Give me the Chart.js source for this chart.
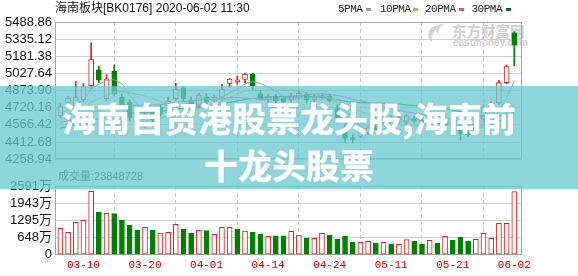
<!DOCTYPE html>
<html><head><meta charset="utf-8">
<script src="https://cdn.jsdelivr.net/npm/chart.js@4.4.0/dist/chart.umd.min.js"></script>
<style>
html,body{margin:0;padding:0;background:#fff;}
body{width:578px;height:276px;position:relative;overflow:hidden;font-family:'Liberation Sans','Noto Sans CJK SC',sans-serif;}
canvas{position:absolute;left:0;z-index:1;}
#c1{top:0;}
#c2{top:170px;}
.abs{position:absolute;white-space:nowrap;}
#title{left:55px;top:1px;font-size:12px;line-height:15px;color:#111;z-index:4;}
.lg{top:2px;font-family:'Liberation Mono','DejaVu Sans Mono',monospace;font-size:11px;letter-spacing:-0.5px;line-height:14px;color:#222;z-index:4;}
.sw{top:8px;width:5px;height:3px;z-index:4;}
#wm1{left:452px;top:22px;font-family:'Noto Sans CJK SC';font-weight:700;font-size:14.5px;line-height:18px;color:#cfcfcf;z-index:0;}
#wm2{left:453px;top:37px;font-family:'Liberation Sans';font-weight:700;font-size:10px;line-height:12px;color:#cfcfcf;z-index:0;}
#logo1{left:428px;top:26px;width:14px;height:18px;border-left:5px solid #d4d4d4;border-radius:50%;transform:rotate(28deg);z-index:0;}
#logo2{left:436px;top:24px;width:9px;height:12px;border-left:3px solid #d4d4d4;border-radius:50%;transform:rotate(28deg);z-index:0;}
#volTxt{left:58px;top:170px;font-size:11px;line-height:13px;color:#333;z-index:1;}
#banner{left:0;top:86px;width:578px;height:103px;background:rgba(106,200,208,0.75);z-index:2;}
.bt{left:0;width:578px;text-align:center;font-family:'Noto Sans CJK SC';font-weight:900;font-size:34px;line-height:47px;color:#fff;z-index:3;text-shadow:0 0 1px rgba(0,0,0,0.2);}
</style></head><body>
<div id="logo1" class="abs"></div>
<div id="logo2" class="abs"></div>
<div id="wm1" class="abs"></div>
<div id="wm2" class="abs"></div>
<canvas id="c1" width="578" height="170"></canvas>
<canvas id="c2" width="578" height="106"></canvas>
<div id="title" class="abs"></div>
<div id="volTxt" class="abs"></div>
<div id="banner" class="abs"></div>
<div id="bt1" class="abs bt" style="top:94px"></div>
<div id="bt2" class="abs bt" style="top:141px"></div>
<script>
// ---------- data ----------
const titleText = '海南板块[BK0176] 2020-06-02 11:30';
const watermarkCn = '东方财富网';
const watermarkEn = 'eastmoney.com';
const bannerLines = ['海南自贸港股票龙头股,海南前', '十龙头股票'];
const volumeLabel = '成交量:23848728';
const maNames = ['5PMA', '10PMA', '20PMA', '30PMA'];

const dates = ['03-05','03-06','03-09','03-10','03-11','03-12','03-13','03-16','03-17','03-18',
  '03-19','03-20','03-23','03-24','03-25','03-26','03-27','03-30','03-31','04-01',
  '04-02','04-03','04-07','04-08','04-09','04-10','04-13','04-14','04-15','04-16',
  '04-17','04-20','04-21','04-22','04-23','04-24','04-27','04-28','04-29','04-30',
  '05-06','05-07','05-08','05-11','05-12','05-13','05-14','05-15','05-18','05-19',
  '05-20','05-21','05-22','05-25','05-26','05-27','05-28','05-29','06-01','06-02'];
const tickDates = ['03-10','03-20','04-01','04-14','04-24','05-11','05-21','06-02'];

const open  = [4649,4764,4715,4790,4917,5060,4801,5046,4816,4772,4643,4548,4678,4729,4738,4801,4896,4790,4744,4816,
  4781,4816,4939,4951,4974,5023,4844,4790,4824,4807,4790,4816,4842,4790,4816,4824,4712,4540,4453,4464,
  4496,4548,4585,4634,4609,4591,4626,4609,4574,4600,4565,4583,4540,4488,4499,4617,4721,4764,4945,5391];
const high  = [4758,4824,4955,4937,5303,5094,5017,5103,4842,4790,4678,4695,4703,4747,4816,4939,4911,4816,4850,4842,
  4833,4930,4982,5003,5031,5031,4876,4842,4842,4824,4850,4867,4859,4833,4850,4842,4747,4574,4479,4531,
  4557,4565,4643,4651,4651,4660,4643,4626,4609,4617,4609,4600,4542,4514,4548,4747,4773,4965,5103,5403];
const low   = [4628,4747,4703,4772,4887,4945,4785,4824,4703,4600,4470,4540,4583,4643,4721,4790,4781,4695,4721,4747,
  4764,4790,4902,4930,4945,4876,4790,4764,4755,4755,4773,4798,4764,4764,4798,4773,4583,4410,4410,4453,
  4479,4505,4574,4591,4591,4574,4583,4565,4548,4557,4548,4522,4427,4462,4488,4591,4695,4747,4937,5098];
const close = [4729,4807,4816,4915,5152,4968,4980,4844,4729,4628,4557,4660,4609,4660,4781,4887,4801,4729,4833,4773,
  4816,4887,4977,4971,5023,4917,4801,4824,4781,4773,4824,4850,4790,4816,4829,4781,4609,4445,4436,4514,
  4540,4522,4628,4609,4634,4647,4600,4583,4591,4574,4591,4548,4488,4479,4531,4721,4755,4945,5089,5282];
// volume in 万 (10k)
const volume = [995,845,1222,1297,2390,1610,1560,1550,1308,1120,931,1033,930,818,845,1146,969,818,920,905,
  769,1033,1033,969,895,845,780,694,707,707,882,743,630,617,807,743,580,694,479,466,
  505,441,466,403,390,566,505,403,541,441,694,555,656,518,580,807,617,1184,1184,2384.87];

const ma5  = [4672,4705,4744,4793,4884,4932,4966,4972,4935,4830,4748,4684,4637,4623,4653,4719,4748,4772,4806,4805,
  4790,4808,4857,4885,4935,4955,4938,4907,4869,4819,4801,4810,4804,4811,4822,4813,4765,4696,4620,4557,
  4509,4491,4528,4563,4587,4608,4624,4615,4611,4599,4588,4577,4558,4536,4528,4554,4595,4687,4809,4959];
const ma10 = [4644,4667,4687,4719,4771,4802,4836,4858,4864,4857,4840,4825,4804,4779,4742,4734,4716,4704,4715,4729,
  4755,4778,4814,4846,4870,4873,4873,4882,4877,4877,4878,4874,4855,4840,4821,4807,4788,4750,4715,4689,
  4661,4628,4612,4591,4572,4558,4558,4571,4587,4593,4598,4601,4587,4574,4564,4571,4586,4623,4672,4744];
const ma20 = [4589,4604,4620,4641,4673,4695,4717,4732,4739,4741,4742,4746,4746,4749,4756,4768,4776,4781,4789,4793,
  4797,4801,4809,4812,4806,4803,4794,4793,4796,4803,4816,4826,4835,4843,4845,4840,4830,4816,4796,4783,
  4769,4751,4734,4716,4696,4683,4673,4661,4651,4641,4629,4614,4599,4582,4568,4565,4572,4597,4630,4668];
const ma30 = [4538,4552,4566,4583,4606,4624,4643,4656,4665,4671,4673,4678,4681,4687,4696,4708,4717,4722,4731,4737,
  4746,4756,4769,4781,4794,4803,4808,4815,4819,4821,4824,4826,4825,4821,4811,4804,4792,4779,4769,4765,
  4765,4760,4761,4759,4754,4746,4739,4734,4726,4720,4712,4701,4685,4668,4652,4645,4644,4648,4658,4675];

const priceTicks = [4258.94,4412.68,4566.42,4720.16,4873.90,5027.64,5181.38,5335.12,5488.86];
const volumeTicks = [0,648,1295,1943,2591];

// ---------- styling ----------
const RED = '#d42020', GREEN = '#008000';
const maColors = ['#9a9a9a', '#eea62a', '#e23ee0', '#0b6a2a'];
const labelFont = {family: "'Liberation Sans', Arial, 'Noto Sans CJK SC'", size: 13};

document.getElementById('title').textContent = titleText;
document.getElementById('wm1').textContent = watermarkCn;
document.getElementById('wm2').textContent = watermarkEn;
document.getElementById('volTxt').textContent = volumeLabel;
document.getElementById('bt1').textContent = bannerLines[0];
document.getElementById('bt2').textContent = bannerLines[1];

// legend
const lgText = [338, 380, 425, 471.5];
const lgSw = [366, 413, 459, 506];
maNames.forEach((n, k) => {
  const t = document.createElement('div');
  t.className = 'abs lg'; t.style.left = lgText[k] + 'px'; t.textContent = n;
  document.body.appendChild(t);
  const s = document.createElement('div');
  s.className = 'abs sw'; s.style.left = lgSw[k] + 'px'; s.style.background = maColors[k];
  document.body.appendChild(s);
});

const idx = dates.map((d, i) => i);
const tickIdx = tickDates.map(d => dates.indexOf(d));
const up = idx.map(i => close[i] >= open[i]);
const volUp = idx.map(i => i === 0 ? close[0] >= open[0] : close[i] >= close[i - 1]);
const candleColor = up.map(u => u ? RED : GREEN);

const framePlugin = {
  id: 'frame',
  beforeDatasetsDraw(chart) {
    const {ctx, chartArea: a} = chart;
    ctx.save();
    ctx.strokeStyle = '#a6a6a6';
    ctx.lineWidth = 1;
    ctx.strokeRect(Math.round(a.left) + 0.5, Math.round(a.top) + 0.5,
      Math.round(a.right) - Math.round(a.left) - 1, Math.round(a.bottom) - Math.round(a.top) - 1);
    ctx.restore();
  }
};

const xBase = {
  type: 'linear', min: -0.7, max: 60, offset: false,
  afterBuildTicks: s => { s.ticks = tickIdx.map(v => ({value: v})); },
  grid: {color: '#c4c4c4', drawTicks: false, lineWidth: 1, borderDash: [4, 3]},
  border: {display: false, dash: [4, 3]}
};

new Chart(document.getElementById('c1'), {
  type: 'bar',
  data: {datasets: [
    ...[ma5, ma10, ma20, ma30].map((arr, k) => ({
      type: 'line', label: maNames[k], data: idx.map(i => ({x: i, y: arr[i]})),
      borderColor: maColors[k], borderWidth: 1, pointRadius: 0, tension: 0, order: 0
    })),
    {type: 'bar', label: 'body', data: idx.map(i => ({x: i, y: [open[i], close[i]]})),
      backgroundColor: up.map(u => u ? '#ffffff' : GREEN), borderColor: candleColor,
      borderWidth: 1, borderSkipped: false, barThickness: 5, grouped: false, minBarLength: 1, order: 1},
    {type: 'bar', label: 'wick', data: idx.map(i => ({x: i, y: [low[i], high[i]]})),
      backgroundColor: candleColor, borderWidth: 0, barThickness: 1, grouped: false, order: 2}
  ]},
  options: {
    responsive: false, animation: false, devicePixelRatio: 1,
    layout: {padding: {left: 0, right: 56, top: 22, bottom: 5.5}},
    plugins: {legend: {display: false}, tooltip: {enabled: false}},
    scales: {
      x: Object.assign({}, xBase, {
        afterFit: s => { s.height = 0; },
        ticks: {display: false}
      }),
      y: {
        type: 'linear', min: priceTicks[0], max: priceTicks[priceTicks.length - 1],
        afterBuildTicks: s => { s.ticks = priceTicks.map(v => ({value: v})); },
        afterFit: s => { s.width = 55; },
        ticks: {callback: v => Number(v).toFixed(2), font: labelFont, color: '#111', padding: 3, autoSkip: false},
        grid: {color: '#cfcfcf', drawTicks: false},
        border: {display: false}
      }
    }
  },
  plugins: [framePlugin]
});

new Chart(document.getElementById('c2'), {
  type: 'bar',
  data: {datasets: [
    {label: 'volume', data: idx.map(i => ({x: i, y: volume[i]})),
      backgroundColor: volUp.map(u => u ? '#ffffff' : GREEN), borderColor: volUp.map(u => u ? RED : GREEN),
      borderWidth: 1, borderSkipped: false, barThickness: 5, grouped: false}
  ]},
  options: {
    responsive: false, animation: false, devicePixelRatio: 1,
    layout: {padding: {left: 0, right: 56, top: 16, bottom: 0}},
    plugins: {legend: {display: false}, tooltip: {enabled: false}},
    scales: {
      x: Object.assign({}, xBase, {
        afterFit: s => { s.height = 21.3; },
        ticks: {callback: v => dates[v], autoSkip: false, maxRotation: 0, padding: 4,
          font: {family: "'Liberation Mono','DejaVu Sans Mono',monospace", size: 11}, color: '#c80000'}
      }),
      y: {
        type: 'linear', min: 0, max: volumeTicks[volumeTicks.length - 1],
        afterBuildTicks: s => { s.ticks = volumeTicks.map(v => ({value: v})); },
        afterFit: s => { s.width = 55; },
        ticks: {callback: v => v === 0 ? '0' : v + '万', font: labelFont, color: '#111', padding: 3, autoSkip: false},
        grid: {color: '#cfcfcf', drawTicks: false},
        border: {display: false}
      }
    }
  },
  plugins: [framePlugin]
});
</script>
</body></html>
